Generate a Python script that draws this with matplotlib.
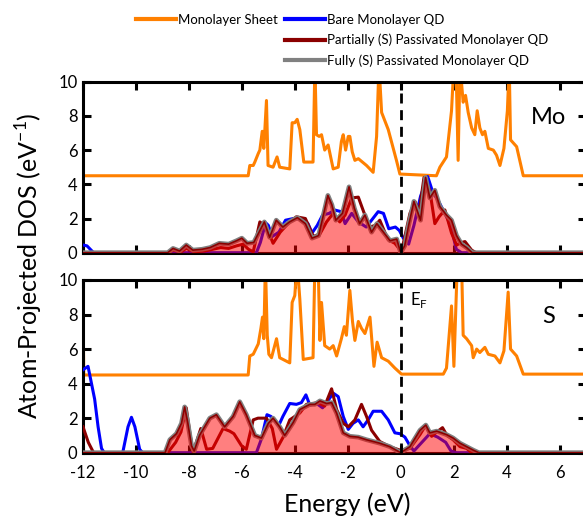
import matplotlib
matplotlib.use("Agg")
import matplotlib.pyplot as plt
from matplotlib.lines import Line2D

plt.rcParams['font.family'] = ['Lato', 'DejaVu Sans']

# ---- Mo projected DOS ----
e_mo_sheet = [-12, -5.76, -5.70, -5.57, -5.51, -5.38, -5.32, -5.23, -5.17, -5.07, -5.01, -4.82, -4.67, -4.57,
              -4.19, -4.10, -4.00, -3.91, -3.81, -3.66, -3.31, -3.24, -3.18, -3.08, -2.99, -2.87, -2.74, -2.55,
              -2.36, -2.24, -2.17, -2.08, -1.98, -1.92, -1.83, -1.73, -1.60, -1.29, -1.04, -0.91, -0.82, -0.72,
              -0.47, -0.16, -0.03, 1.35, 1.48, 1.73, 1.92, 2.01, 2.09, 2.17, 2.24, 2.36, 2.45, 2.55, 2.68, 2.80,
              2.89, 2.99, 3.09, 3.18, 3.31, 3.50, 3.62, 3.75, 3.90, 4.03, 4.10, 4.15, 4.38, 4.63, 7]
mo_sheet = [4.5, 4.5, 5.1, 5.1, 5.3, 5.8, 6.0, 7.1, 6.1, 8.9, 5.1, 5.0, 5.6, 5.0,
            4.9, 7.6, 7.6, 7.8, 7.2, 5.3, 5.3, 11, 6.9, 6.8, 6.9, 6.0, 6.3, 4.9,
            5.0, 6.5, 6.9, 6.0, 6.8, 6.8, 5.9, 5.4, 5.5, 5.1, 4.7, 6.8, 11, 8.2,
            7.2, 5.4, 4.6, 4.5, 5.0, 5.6, 8.3, 11, 11, 5.4, 11, 8.8, 9.2, 8.2, 7.3, 6.9,
            8.3, 7.3, 6.9, 7.1, 6.1, 6.0, 5.7, 5.1, 6.1, 8.3, 11, 6.6, 6.2, 4.5, 4.5]

e_mo_bare = [-12, -11.85, -11.6, -5.45, -5.3, -5.1, -5.0, -4.85, -4.6, -4.35, -4.05, -3.7, -3.5, -3.35,
             -3.15, -2.95, -2.7, -2.5, -2.25, -2.1, -1.85, -1.6, -1.3, -1.05, -0.85, -0.65, -0.45, -0.2,
             -0.05, 0.1, 0.3, 0.5, 0.75, 1.02, 1.22, 1.4, 1.6, 1.8, 1.95, 2.1, 2.3, 7]
mo_bare = [0.45, 0.4, 0, 0, 0.6, 1.75, 1.6, 0.95, 1.2, 1.9, 2.0, 1.95, 1.7, 1.15,
           1.6, 2.2, 2.3, 2.5, 2.4, 1.7, 2.3, 1.8, 1.5, 2.0, 2.4, 2.3, 1.4, 1.5,
           1.3, 0.85, 0.5, 1.6, 3.3, 4.45, 3.5, 3.1, 2.5, 1.9, 1.2, 0.2, 0, 0]

e_mo_part = [-12, -8.8, -8.6, -8.3, -8.1, -7.8, -7.4, -7.1, -6.8, -6.5, -6.2, -5.95, -5.75, -5.57, -5.32,
             -5.07, -4.82, -4.55, -4.2, -3.94, -3.6, -3.3, -3.05, -2.8, -2.55, -2.3, -2.1, -1.85, -1.6,
             -1.4, -1.17, -0.95, -0.79, -0.6, -0.47, -0.22, 0.03, 0.35, 0.54, 0.7, 0.88, 1.1, 1.29, 1.45,
             1.67, 1.92, 2.11, 2.3, 2.43, 2.68, 2.85, 7]
mo_part = [0, 0, 0.15, 0.05, 0.25, 0.05, 0.1, 0.2, 0.3, 0.25, 0.4, 0.5, 0.2, 0.05, 1.8,
           1.5, 0.55, 1.2, 1.8, 2.1, 2.0, 0.95, 1.1, 1.8, 2.3, 1.8, 2.2, 3.2, 3.25,
           2.4, 1.5, 1.6, 1.9, 1.2, 0.75, 0.55, 0.06, 2.3, 3.0, 2.4, 4.4, 3.65, 1.7, 2.1,
           2.5, 1.15, 0.45, 0.6, 0.65, 0.15, 0, 0]

e_mo_full = [-12, -8.8, -8.6, -8.35, -8.1, -7.85, -7.5, -7.2, -6.85, -6.5, -6.2, -6.0, -5.8, -5.55, -5.35,
             -5.15, -4.95, -4.7, -4.45, -4.2, -3.9, -3.6, -3.35, -3.1, -2.95, -2.75, -2.6, -2.45, -2.2,
             -1.95, -1.75, -1.55, -1.35, -1.1, -0.9, -0.65, -0.4, -0.15, 0.0, 0.15, 0.3, 0.5, 0.75, 0.94,
             1.1, 1.29, 1.48, 1.73, 1.92, 2.11, 2.3, 2.49, 2.7, 7]
mo_full = [0, 0, 0.25, 0.1, 0.45, 0.15, 0.2, 0.3, 0.55, 0.5, 0.7, 0.85, 0.55, 0.6, 1.2,
           1.8, 0.9, 1.9, 1.5, 1.8, 2.05, 1.7, 0.85, 1.0, 2.0, 3.35, 2.8, 1.9, 2.3,
           3.85, 2.6, 1.7, 2.2, 1.2, 1.7, 1.2, 0.7, 0.8, 0.0, 0.4, 1.6, 3.0, 1.9, 4.4,
           3.2, 3.65, 2.7, 2.2, 1.9, 1.0, 0.5, 0.3, 0.0, 0]

# ---- S projected DOS ----
e_s_sheet = [-12, -11.97, -5.76, -5.70, -5.57, -5.38, -5.28, -5.22, -5.17, -5.11, -5.04, -4.98, -4.88, -4.69,
             -4.57, -4.19, -4.10, -4.00, -3.91, -3.81, -3.68, -3.31, -3.24, -3.12, -3.05, -2.99, -2.87, -2.68,
             -2.55, -2.42, -2.24, -2.13, -2.05, -1.92, -1.82, -1.73, -1.60, -1.48, -1.35, -1.16, -1.01, -0.89,
             -0.72, -0.47, -0.22, 0.03, 1.61, 1.73, 1.92, 2.01, 2.14, 2.30, 2.36, 2.49, 2.68, 2.74, 2.87, 2.99,
             3.18, 3.31, 3.56, 3.75, 3.90, 4.06, 4.15, 4.38, 4.63, 7]
s_sheet = [8.5, 4.5, 4.5, 5.6, 5.7, 6.3, 7.2, 7.85, 6.6, 11, 6.8, 5.7, 5.5, 6.6,
           5.5, 5.2, 8.7, 9.1, 11, 8.9, 5.4, 5.5, 11, 11, 6.5, 8.7, 6.2, 6.0,
           6.2, 5.6, 6.6, 7.3, 6.8, 9.4, 7.6, 6.5, 7.6, 7.2, 6.9, 7.85, 5.0, 6.4,
           5.5, 5.3, 4.9, 4.55, 4.55, 4.9, 8.5, 5.0, 11, 11, 6.8, 6.6, 6.2, 5.5, 6.0, 5.8,
           6.1, 5.7, 5.6, 5.2, 5.9, 9.3, 6.0, 5.6, 4.55, 4.55]

e_s_bare = [-12, -11.81, -11.56, -11.43, -11.3, -11.2, -10.5, -10.3, -10.17, -10.04, -9.86, -9.75, -5.45,
            -5.26, -5.05, -4.9, -4.6, -4.45, -4.19, -3.94, -3.75, -3.58, -3.43, -3.18, -2.95, -2.75, -2.55,
            -2.36, -2.17, -1.98, -1.8, -1.6, -1.42, -1.23, -1.04, -0.72, -0.47, -0.22, -0.03, 0.16, 0.35,
            0.5, 0.8, 1.1, 1.4, 1.7, 1.9, 2.1, 7]
s_bare = [4.8, 5.0, 3.1, 1.5, 0.25, 0, 0, 1.5, 2.05, 1.5, 0.2, 0, 0,
          0.8, 2.2, 2.1, 1.6, 2.1, 2.85, 2.8, 2.9, 3.35, 2.75, 2.85, 2.6, 3.0, 3.45,
          3.25, 2.1, 1.35, 1.7, 1.9, 1.5, 1.9, 2.4, 2.4, 1.9, 1.15, 1.1, 0.9, 0.4,
          0.1, 0.6, 1.1, 0.9, 0.6, 0.1, 0, 0]

e_s_part = [-12, -11.8, -11.6, -8.8, -8.5, -8.3, -8.1, -7.95, -7.84, -7.55, -7.33, -7.1, -6.71, -6.46,
            -6.3, -6.01, -5.83, -5.57, -5.39, -5.07, -4.85, -4.69, -4.44, -4.19, -3.81, -3.56, -3.12, -2.87,
            -2.61, -2.42, -2.17, -1.98, -1.73, -1.48, -1.29, -1.1, -0.79, -0.41, -0.03, 0.35, 0.73, 0.95,
            1.17, 1.36, 1.58, 1.75, 1.98, 2.24, 2.49, 2.68, 7]
s_part = [1.5, 0.6, 0, 0, 0.6, 1.2, 2.6, 1.0, 0.05, 1.4, 0.2, 0.25, 1.4, 1.25,
          1.1, 0.4, 0.2, 1.9, 2.0, 2.0, 1.4, 0.2, 0.9, 1.9, 2.3, 2.8, 2.9, 2.7,
          3.7, 2.5, 1.7, 1.5, 1.9, 2.8, 2.1, 1.3, 0.65, 0.35, 0.15, 0.25, 1.05, 1.6,
          0.95, 1.2, 1.45, 1.0, 0.75, 0.35, 0.25, 0, 0]

e_s_full = [-12, -8.9, -8.72, -8.47, -8.28, -8.16, -8.05, -7.9, -7.8, -7.6, -7.21, -6.96, -6.65, -6.33,
            -6.08, -5.83, -5.51, -5.26, -5.0, -4.82, -4.57, -4.38, -4.06, -3.81, -3.43, -3.24, -3.05, -2.8,
            -2.61, -2.42, -2.17, -1.92, -1.6, -1.29, -0.79, -0.41, 0.0, 0.35, 0.73, 0.95, 1.1, 1.36, 1.73,
            1.98, 2.24, 2.49, 2.74, 2.95, 7]
s_full = [0, 0, 0.75, 1.1, 1.7, 2.65, 1.8, 0.4, 0.1, 1.0, 2.0, 2.2, 1.5, 2.1,
          2.95, 2.2, 1.0, 0.85, 1.7, 2.0, 1.5, 1.0, 1.75, 2.5, 2.8, 2.8, 3.0, 2.85,
          2.9, 2.3, 1.15, 0.95, 0.9, 0.75, 0.55, 0.35, 0.0, 0.35, 1.3, 1.6, 1.15, 1.25, 1.05,
          0.85, 0.55, 0.35, 0.15, 0, 0]

labels = ["Monolayer Sheet", "Bare Monolayer QD",
          "Partially (S) Passivated Monolayer QD", "Fully (S) Passivated Monolayer QD"]
c_sheet, c_bare, c_part, c_full = "#FF8000", "#0000FF", "#8B0000", "#808080"

W, H = 583, 516
fig = plt.figure(figsize=(W / 100, H / 100), dpi=100)
left, right = 83 / W, 586 / W
ax1 = fig.add_axes([left, 1 - 252.7 / H, right - left, 171 / H])
ax2 = fig.add_axes([left, 1 - 452.7 / H, right - left, 172.7 / H])

panels = [
    (ax1, e_mo_sheet, mo_sheet, e_mo_bare, mo_bare, e_mo_part, mo_part, e_mo_full, mo_full, "Mo"),
    (ax2, e_s_sheet, s_sheet, e_s_bare, s_bare, e_s_part, s_part, e_s_full, s_full, "S"),
]

for ax, es, ys, eb, yb, ep, yp, ef, yf, name in panels:
    ax.plot(es, ys, color=c_sheet, lw=2.2, zorder=2)
    ax.plot(eb, yb, color=c_bare, lw=2.2, zorder=3)
    ax.plot(ep, yp, color=c_part, lw=2.2, zorder=3)
    ax.plot(ef, yf, color=c_full, lw=3.4, zorder=4)
    ax.fill_between(ef, yf, 0, color="red", alpha=0.5, lw=0, zorder=5)
    ax.plot(ef, yf, color=c_part, lw=1.2, zorder=6)
    ax.axvline(0, color="black", lw=2, linestyle=(0, (3.6, 2.4)), zorder=7)

    ax.set_xlim(-12, 7)
    ax.set_ylim(0, 10)
    ax.set_xticks(range(-12, 7, 2))
    ax.set_yticks(range(0, 11, 2))
    ax.tick_params(direction="in", length=6, width=2.2, top=True, right=True,
                   labelsize=12, pad=4)
    ax.tick_params(axis="x", pad=9)
    for sp in ax.spines.values():
        sp.set_linewidth(2.2)
    ax.text(0.925, 0.79, name, transform=ax.transAxes, fontsize=17,
            ha="center", va="center")

ax1.tick_params(labelbottom=False)
ax2.set_xticklabels(["-12", "-10", "-8", "-6", "-4", "-2", "0", "2", "4", "6"])
ax1.set_yticklabels(["0", "2", "4", "6", "8", "10"])
ax2.set_yticklabels(["0", "2", "4", "6", "8", "10"])

ax2.text(0.35, 8.85, r"E$_\mathregular{F}$", fontsize=12, ha="left", va="center")

fig.text(347 / W, 1 - 504 / H, "Energy (eV)", fontsize=18, ha="center", va="center")
fig.text(29 / W, 1 - 266 / H, r"Atom-Projected DOS (eV$^{\mathregular{-1}}$)", fontsize=18,
         rotation=90, ha="center", va="center")

h_sheet = Line2D([], [], color=c_sheet, lw=3)
h_bare = Line2D([], [], color=c_bare, lw=3)
h_part = Line2D([], [], color=c_part, lw=3)
h_full = Line2D([], [], color=c_full, lw=3)

leg_kw = dict(frameon=False, fontsize=9.5, handlelength=3.0, handletextpad=0.2,
              labelspacing=0.6, borderpad=0, borderaxespad=0)
fig.legend([h_sheet], [labels[0]], loc="upper left",
           bbox_to_anchor=(136 / W, 1 - 14 / H), **leg_kw)
fig.legend([h_bare, h_part, h_full], labels[1:], loc="upper left",
           bbox_to_anchor=(285 / W, 1 - 14 / H), **leg_kw)

fig.savefig("out.png", dpi=100)
